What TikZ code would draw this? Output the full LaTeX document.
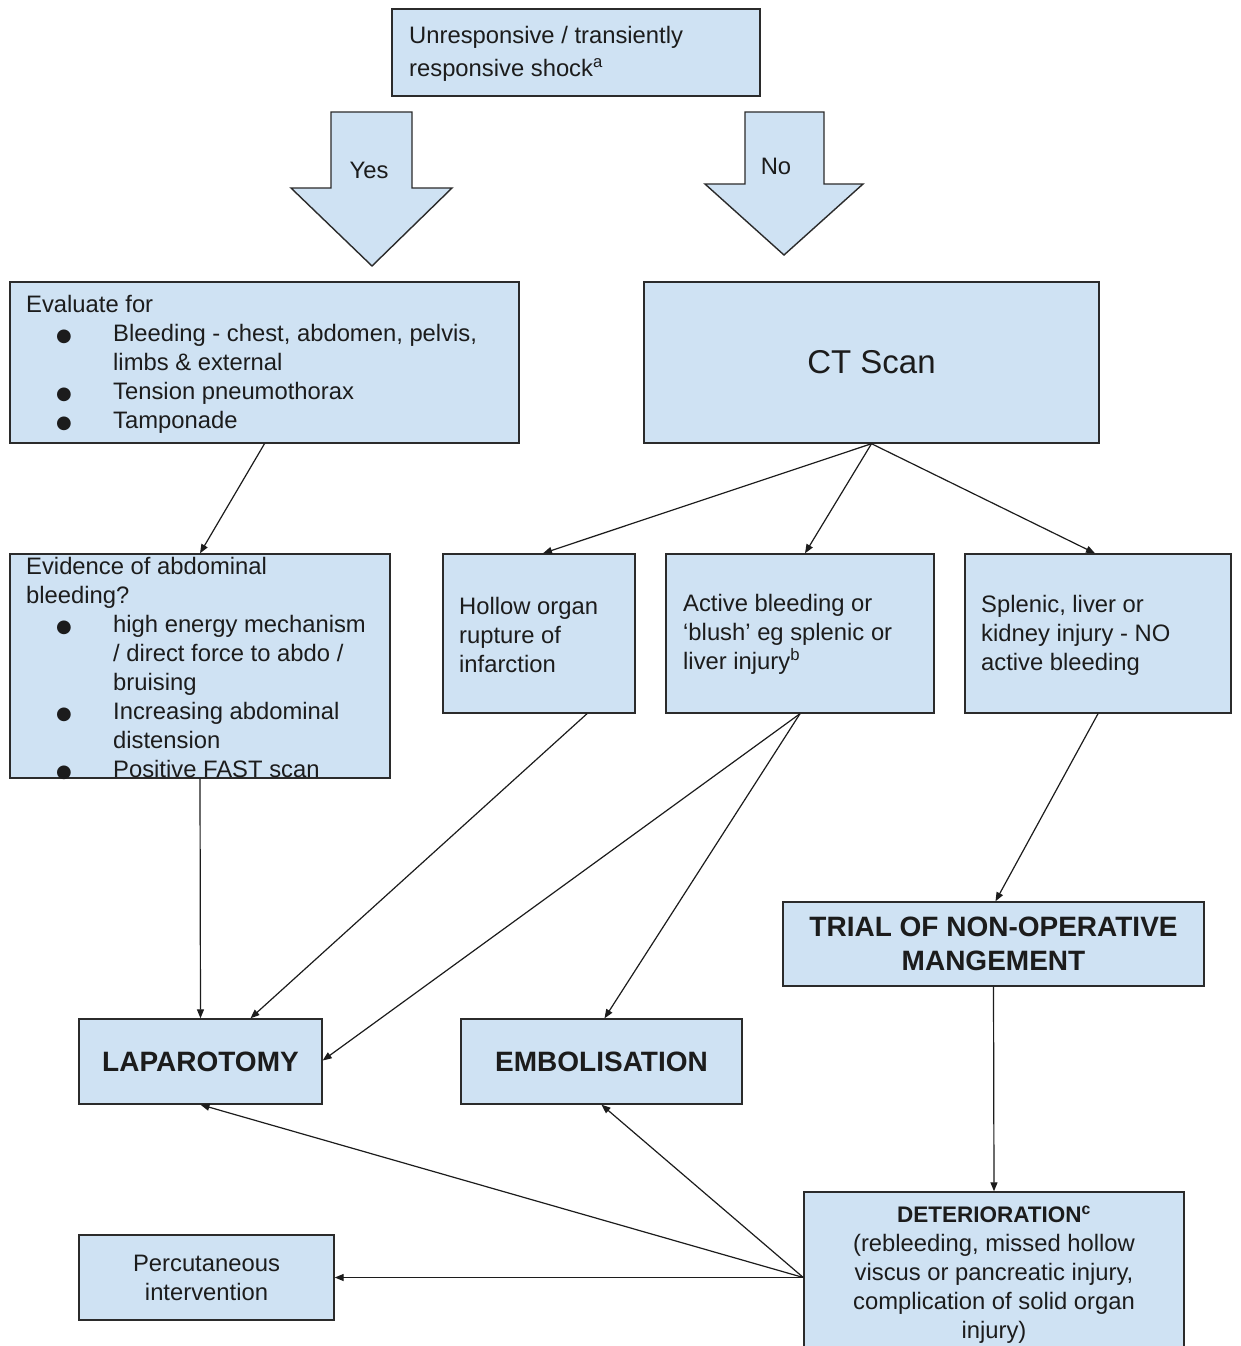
\documentclass[tikz,border=0pt]{standalone}
\usepackage{fontspec}
\setmainfont{Liberation Sans}
\newfontfamily\dejavu{DejaVu Sans}
\usetikzlibrary{arrows.meta}
\definecolor{boxblue}{HTML}{CFE2F3}
\definecolor{bord}{HTML}{2B2B2B}
\definecolor{ink}{HTML}{1C1C1C}
\newcommand{\bul}{\makebox[87pt][l]{\hspace*{30pt}{\dejavu\fontsize{18}{18}\selectfont ●}}}
\newcommand{\ind}{\hspace*{87pt}}
\tikzset{
  box/.style={draw=bord, fill=boxblue, line width=1.4pt, inner sep=0pt, rectangle, text=ink},
  txt/.style={inner sep=0pt, align=left, text=ink, font=\fontsize{23.8}{29}\selectfont},
  ctxt/.style={align=center, font=\fontsize{23.8}{29}\selectfont},
  bigb/.style={align=center, font=\fontsize{28}{34}\selectfont\bfseries},
  arr/.style={draw=ink, line width=1.2pt, -{Triangle[length=9pt,width=7pt]}},
}
\begin{document}
\begin{tikzpicture}[x=1pt,y=-1pt]
\useasboundingbox (0,0) rectangle (1240,1346);
\begin{scope}
\clip (0,0) rectangle (1240,1346);
\fill[white] (0,0) rectangle (1240,1346);

% top box
\node[box, minimum width=368pt, minimum height=87pt] (top) at (576,52.5) {};
\node[txt, anchor=west, font=\fontsize{23.8}{33}\selectfont] (topt) at (409,54) {Unresponsive / transiently\\responsive shock\textsuperscript{a}};

% block arrows
\draw[box] (331,112) -- (412,112) -- (412,188) -- (452,188) -- (372,266) -- (291,188) -- (331,188) -- cycle;
\node[txt] (yes) at (369,170) {Yes};
\draw[box] (745,112) -- (824,112) -- (824,184) -- (863,184) -- (784,255) -- (705,184) -- (745,184) -- cycle;
\node[txt] (no) at (776,166) {No};

% evaluate
\node[box, minimum width=509pt, minimum height=161pt] (eval) at (264.5,362.5) {};
\node[txt, anchor=west] (evalt) at (26,364) {Evaluate for\\
\bul Bleeding - chest, abdomen, pelvis,\\
\ind limbs \& external\\
\bul Tension pneumothorax\\
\bul Tamponade};

% CT
\node[box, minimum width=455pt, minimum height=161pt, font=\fontsize{33}{40}\selectfont] (ct) at (871.5,362.5) {CT Scan};

% evidence
\node[box, minimum width=380pt, minimum height=224pt] (evid) at (200,666) {};
\node[txt, anchor=west] (evidt) at (26,668) {Evidence of abdominal\\
bleeding?\\
\bul high energy mechanism\\
\ind / direct force to abdo /\\
\ind bruising\\
\bul Increasing abdominal\\
\ind distension\\
\bul Positive FAST scan};

% CT results
\node[box, minimum width=192pt, minimum height=159pt] (hollow) at (539,633.5) {};
\node[txt, anchor=west] (hollowt) at (459,635) {Hollow organ\\rupture of\\infarction};
\node[box, minimum width=268pt, minimum height=159pt] (active) at (800,633.5) {};
\node[txt, anchor=west] (activet) at (683,634) {Active bleeding or\\‘blush’ eg splenic or\\liver injury\textsuperscript{b}};
\node[box, minimum width=266pt, minimum height=159pt] (splenic) at (1098,633.5) {};
\node[txt, anchor=west] (splenict) at (981,635) {Splenic, liver or\\kidney injury - NO\\active bleeding};

% trial
\node[box, bigb, minimum width=421pt, minimum height=84pt] (trial) at (993.5,944) {TRIAL OF NON-OPERATIVE\\MANGEMENT};

% outcomes
\node[box, bigb, minimum width=243pt, minimum height=85pt] (lap) at (200.5,1061.5) {LAPAROTOMY};
\node[box, bigb, minimum width=281pt, minimum height=85pt] (emb) at (601.5,1061.5) {EMBOLISATION};
\node[box, ctxt, minimum width=380pt, minimum height=165pt] (det) at (994,1274.5) {{\fontsize{22.5}{29}\selectfont\bfseries DETERIORATION\textsuperscript{c}}\\(rebleeding, missed hollow\\viscus or pancreatic injury,\\complication of solid organ\\injury)};
\node[box, ctxt, minimum width=255pt, minimum height=85pt] (perc) at (206.5,1277.5) {Percutaneous\\intervention};

% connectors
\draw[arr] (eval.south) -- (evid.north);
\draw[arr] (ct.south) -- ([xshift=4pt]hollow.north);
\draw[arr] (ct.south) -- ([xshift=5pt]active.north);
\draw[arr] (ct.south) -- ([xshift=-3pt]splenic.north);
\draw[arr] ([xshift=48pt]hollow.south) -- ([xshift=50pt]lap.north);
\draw[arr] (active.south) -- ([yshift=1pt]lap.east);
\draw[arr] (active.south) -- ([xshift=3pt]emb.north);
\draw[arr] (splenic.south) -- ([xshift=2pt]trial.north);
\draw[arr] (evid.south) -- (lap.north);
\draw[arr] (trial.south) -- (det.north);
\draw[arr] ([yshift=-3pt]det.west) -- (lap.south);
\draw[arr] ([yshift=-3pt]det.west) -- (emb.south);
\draw[arr] ([yshift=-3pt]det.west) -- (perc.east);
\end{scope}
\end{tikzpicture}
\end{document}
